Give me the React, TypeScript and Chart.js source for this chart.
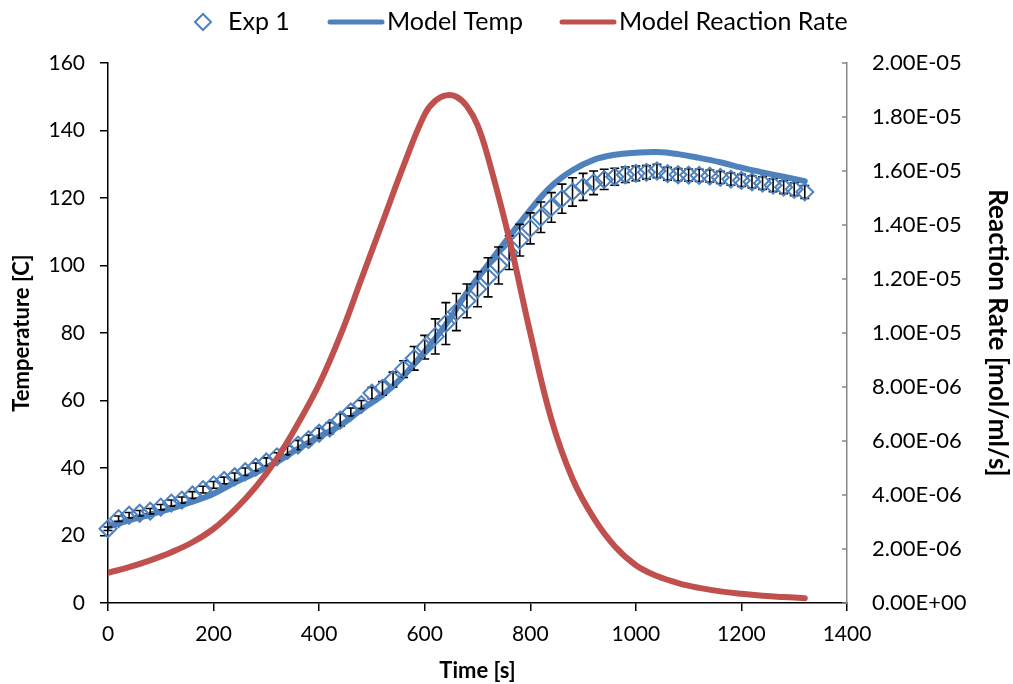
import React, { useEffect, useRef } from "react";
import { Chart, registerables } from "chart.js";

Chart.register(...registerables);

// ---- Data ----
const expTime = [
  0, 20, 40, 60, 80, 100, 120, 140, 160, 180, 200, 220, 240, 260, 280, 300, 320, 340, 360, 380,
  400, 420, 440, 460, 480, 500, 520, 540, 560, 580, 600, 620, 640, 660, 680, 700, 720, 740, 760, 780,
  800, 820, 840, 860, 880, 900, 920, 940, 960, 980, 1000, 1020, 1040, 1060, 1080, 1100, 1120, 1140,
  1160, 1180, 1200, 1220, 1240, 1260, 1280, 1300, 1320,
];
const expTemp = [
  22.0, 25.0, 26.0, 26.6, 27.2, 28.4, 29.6, 30.5, 32.0, 33.6, 35.0, 36.3, 37.4, 38.9, 40.3, 41.8,
  43.3, 45.2, 46.8, 48.4, 50.3, 51.8, 54.2, 56.6, 58.8, 62.2, 63.6, 66.2, 69.3, 72.5, 75.8, 79.0,
  82.8, 86.2, 89.5, 93.0, 96.5, 100.0, 103.8, 107.5, 111.0, 114.3, 117.2, 119.8, 121.8, 123.3,
  124.5, 125.5, 126.3, 126.9, 127.3, 127.6, 128.0, 127.2, 126.9, 126.8, 126.7, 126.5, 126.1, 125.6,
  125.2, 124.8, 124.4, 123.8, 123.2, 122.6, 121.8,
];
const expErr = [
  0.5, 0.8, 0.8, 0.8, 0.8, 0.8, 0.9, 0.9, 1.0, 1.0, 1.0, 1.0, 1.1, 1.1, 1.2, 1.2, 1.2, 1.3, 1.4, 1.4,
  1.5, 1.6, 1.8, 1.2, 1.2, 1.7, 2.0, 2.2, 2.5, 3.5, 3.5, 5.2, 6.2, 5.5, 5.0, 5.2, 5.8, 5.5, 5.0, 4.7,
  4.6, 4.5, 4.4, 4.3, 4.2, 4.0, 3.5, 3.0, 2.5, 2.3, 2.2, 2.0, 2.0, 1.9, 1.8, 1.8, 1.8, 1.8, 1.8, 1.8,
  1.8, 1.8, 1.9, 1.9, 1.9, 1.9, 1.9,
];

const modelTempTime = [
  0, 40, 80, 120, 160, 200, 240, 280, 320, 360, 400, 440, 480, 520, 560, 600, 640, 680, 720, 760,
  800, 840, 880, 920, 960, 1000, 1040, 1080, 1120, 1160, 1200, 1240, 1280, 1320,
];
const modelTemp = [
  22.6, 24.5, 26.2, 28.0, 30.0, 32.4, 35.7, 38.6, 41.8, 45.7, 49.3, 52.6, 57.3, 61.6, 67.3, 74.5,
  82.5, 92.0, 100.3, 108.5, 116.5, 123.5, 128.2, 131.3, 132.8, 133.4, 133.6, 133.0, 131.9, 130.6,
  129.0, 127.6, 126.3, 125.0,
];

const modelRateTime = [
  0, 40, 80, 120, 160, 200, 240, 280, 320, 360, 400, 440, 480, 520, 560, 600, 620, 640, 660, 680,
  700, 720, 760, 800, 840, 880, 920, 960, 1000, 1040, 1080, 1120, 1160, 1200, 1240, 1280, 1320,
];
const modelRate = [
  1.12e-6, 1.33e-6, 1.58e-6, 1.88e-6, 2.25e-6, 2.75e-6, 3.45e-6, 4.3e-6, 5.35e-6, 6.65e-6, 8.1e-6,
  9.9e-6, 1.2e-5, 1.41e-5, 1.62e-5, 1.81e-5, 1.86e-5, 1.88e-5, 1.875e-5, 1.84e-5, 1.77e-5, 1.65e-5,
  1.35e-5, 1.0e-5, 6.8e-6, 4.6e-6, 3.15e-6, 2.1e-6, 1.4e-6, 1.0e-6, 7.4e-7, 5.6e-7, 4.3e-7, 3.4e-7,
  2.7e-7, 2.2e-7, 1.8e-7,
];

const timeTicks = [0, 200, 400, 600, 800, 1000, 1200, 1400];
const tempTicks = [0, 20, 40, 60, 80, 100, 120, 140, 160];
const rateTicks = [0, 2e-6, 4e-6, 6e-6, 8e-6, 1e-5, 1.2e-5, 1.4e-5, 1.6e-5, 1.8e-5, 2e-5];

const seriesNames = ["Exp 1", "Model Temp", "Model Reaction Rate"];

// ---- Styles ----
const BLUE = "#4F81BD";
const RED = "#C0504D";
const FONT = "Lato";
const tickFont = { family: FONT, size: 21 };
const rightTickFont = { family: FONT, size: 22 };
const titleFont = { family: FONT, size: 22, weight: "bold" as const };
const rightTitleFont = { family: FONT, size: 26, weight: "bold" as const };

function sci(v: number): string {
  if (Math.abs(v) < 1e-20) return "0.00E+00";
  const e = Math.floor(Math.log10(Math.abs(v)) + 1e-9);
  const m = v / Math.pow(10, e);
  const sign = e < 0 ? "-" : "+";
  const a = Math.abs(e);
  return m.toFixed(2) + "E" + sign + (a < 10 ? "0" + a : String(a));
}

const errorBarPlugin = {
  id: "errorBars",
  beforeDatasetDraw(chart: any, args: any) {
    if (args.index !== 0) return;
    const ctx = chart.ctx;
    const xs = chart.scales.x;
    const ys = chart.scales.y;
    ctx.save();
    ctx.strokeStyle = "#000";
    ctx.lineWidth = 1.6;
    for (let i = 0; i < expTime.length; i++) {
      const x = xs.getPixelForValue(expTime[i]);
      const y1 = ys.getPixelForValue(expTemp[i] + expErr[i]);
      const y2 = ys.getPixelForValue(expTemp[i] - expErr[i]);
      ctx.beginPath();
      ctx.moveTo(x, y1);
      ctx.lineTo(x, y2);
      ctx.moveTo(x - 4.5, y1);
      ctx.lineTo(x + 4.5, y1);
      ctx.moveTo(x - 4.5, y2);
      ctx.lineTo(x + 4.5, y2);
      ctx.stroke();
    }
    ctx.restore();
  },
};

const decorPlugin = {
  id: "decor",
  afterDraw(chart: any) {
    const ctx = chart.ctx;
    const r = chart.scales.y1;
    const area = chart.chartArea;
    ctx.save();
    // inward ticks on right axis
    ctx.strokeStyle = "#868686";
    ctx.lineWidth = 1.5;
    for (const v of rateTicks) {
      const y = r.getPixelForValue(v);
      ctx.beginPath();
      ctx.moveTo(area.right - 5, y);
      ctx.lineTo(area.right, y);
      ctx.stroke();
    }
    // legend
    const ly = 22;
    ctx.font = `25px ${FONT}`;
    ctx.fillStyle = "#000";
    ctx.textBaseline = "middle";
    ctx.textAlign = "left";
    ctx.strokeStyle = BLUE;
    ctx.lineWidth = 2;
    ctx.beginPath();
    ctx.moveTo(203 - 8, ly);
    ctx.lineTo(203, ly - 8);
    ctx.lineTo(203 + 8, ly);
    ctx.lineTo(203, ly + 8);
    ctx.closePath();
    ctx.stroke();
    ctx.fillText(seriesNames[0], 228, ly);
    ctx.lineCap = "round";
    ctx.lineWidth = 5;
    ctx.strokeStyle = BLUE;
    ctx.beginPath();
    ctx.moveTo(330, ly);
    ctx.lineTo(382, ly);
    ctx.stroke();
    ctx.fillText(seriesNames[1], 387, ly);
    ctx.strokeStyle = RED;
    ctx.beginPath();
    ctx.moveTo(562, ly);
    ctx.lineTo(614, ly);
    ctx.stroke();
    ctx.fillText(seriesNames[2], 619, ly);
    ctx.restore();
  },
};

export default function App() {
  const ref = useRef<HTMLCanvasElement | null>(null);
  useEffect(() => {
    if (!ref.current) return;
    const chart = new Chart(ref.current, {
      type: "scatter",
      data: {
        datasets: [
          {
            label: seriesNames[0],
            data: expTime.map((t, i) => ({ x: t, y: expTemp[i] })),
            yAxisID: "y",
            showLine: false,
            pointStyle: "rectRot",
            pointRadius: 8.5,
            pointBorderWidth: 2,
            pointBorderColor: BLUE,
            pointBackgroundColor: "rgba(0,0,0,0)",
            borderColor: BLUE,
            backgroundColor: "rgba(0,0,0,0)",
            clip: false,
            order: 1,
          } as any,
          {
            label: seriesNames[1],
            data: modelTempTime.map((t, i) => ({ x: t, y: modelTemp[i] })),
            yAxisID: "y",
            showLine: true,
            borderColor: BLUE,
            borderWidth: 6,
            pointRadius: 0,
            tension: 0.4,
            borderCapStyle: "round",
            order: 2,
          } as any,
          {
            label: seriesNames[2],
            data: modelRateTime.map((t, i) => ({ x: t, y: modelRate[i] })),
            yAxisID: "y1",
            showLine: true,
            borderColor: RED,
            borderWidth: 6,
            pointRadius: 0,
            tension: 0.4,
            borderCapStyle: "round",
            order: 0,
          } as any,
        ],
      },
      options: {
        animation: false,
        responsive: false,
        maintainAspectRatio: false,
        devicePixelRatio: 1,
        layout: { padding: { top: 63, left: 0, right: 0, bottom: 0 } },
        plugins: { legend: { display: false }, tooltip: { enabled: false } },
        scales: {
          x: {
            type: "linear",
            position: "bottom",
            min: 0,
            max: 1400,
            afterBuildTicks: (s: any) => {
              s.ticks = timeTicks.map((v) => ({ value: v }));
            },
            afterFit: (s: any) => {
              s.height = 81;
            },
            grid: { drawOnChartArea: false, drawTicks: true, tickLength: 8, color: "#000", lineWidth: 1.5 },
            border: { display: true, color: "#000", width: 1.5 },
            ticks: {
              font: tickFont,
              color: "#000",
              padding: 11,
              maxRotation: 0,
              autoSkip: false,
              callback: (v: any) => String(v),
            },
            title: { display: true, text: "Time [s]", font: titleFont, color: "#000", padding: { top: 0, bottom: 0 } },
          },
          y: {
            type: "linear",
            position: "left",
            min: 0,
            max: 160,
            afterBuildTicks: (s: any) => {
              s.ticks = tempTicks.map((v) => ({ value: v }));
            },
            afterFit: (s: any) => {
              s.width = 108;
            },
            grid: { drawOnChartArea: false, drawTicks: true, tickLength: 8, color: "#000", lineWidth: 1.5 },
            border: { display: true, color: "#000", width: 1.5 },
            ticks: { font: tickFont, color: "#000", padding: 15, callback: (v: any) => String(v) },
            title: { display: true, text: "Temperature [C]", font: titleFont, color: "#000", padding: { top: 9, bottom: 0 } },
          },
          y1: {
            type: "linear",
            position: "right",
            min: 0,
            max: 2e-5,
            afterBuildTicks: (s: any) => {
              s.ticks = rateTicks.map((v) => ({ value: v }));
            },
            afterFit: (s: any) => {
              s.width = 166;
            },
            grid: { drawOnChartArea: false, drawTicks: false },
            border: { display: true, color: "#868686", width: 1.5 },
            ticks: { font: rightTickFont, color: "#000", padding: 25, callback: (v: any) => sci(Number(v)) },
            title: {
              display: true,
              text: "Reaction Rate [mol/ml/s]",
              font: rightTitleFont,
              color: "#000",
              padding: { top: 0, bottom: 0 },
            },
          },
        },
      } as any,
      plugins: [errorBarPlugin, decorPlugin],
    });
    return () => chart.destroy();
  }, []);
  return (
    <div style={{ position: "fixed", left: 0, top: 0, width: 1013, height: 684, background: "#fff" }}>
      <canvas ref={ref} width={1013} height={684} style={{ display: "block" }} />
    </div>
  );
}
